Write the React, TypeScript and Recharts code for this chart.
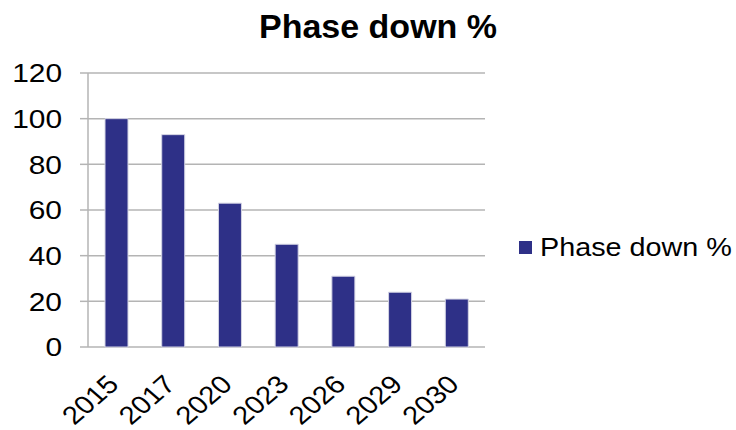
import React from "react";
import { BarChart, Bar, XAxis, YAxis, CartesianGrid } from "recharts";

const years = ["2015", "2017", "2020", "2023", "2026", "2029", "2030"];
const phaseDown = [100, 93, 63, 45, 31, 24, 21];
const yTicks = [0, 20, 40, 60, 80, 100, 120];
const seriesName = "Phase down %";
const titleText = "Phase down %";

const data = years.map((y, i) => ({ year: y, value: phaseDown[i], idx: i + 0.5 }));
const boundTicks = years.map((_, i) => i).concat([years.length]);

const FONT = "'Liberation Sans', Arial, sans-serif";
const BAR = "#2E3087";
const GRID = "#B4B4B4";
const SX = 1.15;

const XTick = (props: any) => {
  const { x, y, payload } = props;
  return (
    <text
      x={0}
      y={0}
      textAnchor="end"
      transform={`translate(${x + 4},${y + 39}) scale(${SX},1) rotate(-45)`}
      fontFamily={FONT}
      fontSize={25.5}
      fill="#000"
    >
      {payload.value}
    </text>
  );
};

const YTick = (props: any) => {
  const { x, y, payload } = props;
  return (
    <text
      x={0}
      y={0}
      dy="0.36em"
      textAnchor="end"
      transform={`translate(${x},${y}) scale(${SX},1)`}
      fontFamily={FONT}
      fontSize={26}
      fill="#000"
    >
      {payload.value}
    </text>
  );
};

export default function App() {
  return (
    <div style={{ position: "absolute", left: 0, top: 0, width: 736, height: 430, background: "#fff" }}>
      <svg width={736} height={60} style={{ position: "absolute", left: 0, top: 0 }}>
        <text x={378} y={38} textAnchor="middle" fontFamily={FONT} fontWeight="bold" fontSize={34} fill="#000">
          {titleText}
        </text>
      </svg>
      <div style={{ position: "absolute", left: 0, top: 0 }}>
        <BarChart
          width={736}
          height={430}
          data={data}
          margin={{ top: 73, right: 251, bottom: 23, left: 28 }}
          barCategoryGap="30%"
        >
          <CartesianGrid horizontal={true} vertical={false} stroke={GRID} strokeWidth={1.5} />
          <XAxis
            xAxisId="bounds"
            type="number"
            dataKey="idx"
            domain={[0, years.length]}
            ticks={boundTicks}
            tick={false}
            tickSize={8}
            height={0}
            stroke={GRID}
            strokeWidth={1.5}
            tickLine={{ stroke: GRID, strokeWidth: 1.5 }}
            allowDataOverflow
          />
          <XAxis
            xAxisId="cat"
            dataKey="year"
            axisLine={false}
            tickLine={false}
            tickSize={0}
            tickMargin={0}
            height={60}
            interval={0}
            tick={<XTick />}
          />
          <YAxis
            domain={[0, 120]}
            ticks={yTicks}
            width={60}
            tickSize={8}
            tickMargin={18}
            stroke={GRID}
            strokeWidth={1.5}
            tick={<YTick />}
            tickLine={{ stroke: GRID, strokeWidth: 1.5 }}
            interval={0}
          />
          <Bar
            xAxisId="cat"
            dataKey="value"
            name={seriesName}
            fill={BAR}
            stroke="#D4D4E4"
            strokeWidth={1}
            isAnimationActive={false}
          />
        </BarChart>
      </div>
      <div
        style={{
          position: "absolute",
          left: 519,
          top: 230,
          display: "flex",
          alignItems: "center",
          fontFamily: FONT,
          fontSize: 25,
          color: "#000",
          whiteSpace: "nowrap",
        }}
      >
        <div style={{ width: 13, height: 13, background: BAR, marginRight: 8 }} />
        <span style={{ lineHeight: "34px", display: "inline-block", transform: `scaleX(${SX})`, transformOrigin: "left center" }}>
          {seriesName}
        </span>
      </div>
    </div>
  );
}
